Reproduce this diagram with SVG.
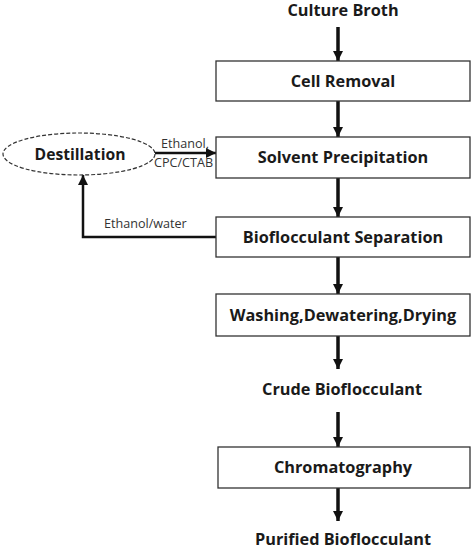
<svg xmlns="http://www.w3.org/2000/svg" width="474" height="553" viewBox="0 0 474 553">
<defs>
<style>
.box{fill:#fff;stroke:#333;stroke-width:1.3}
.t{font-family:"Open Sans","Liberation Sans",sans-serif;font-weight:bold;font-size:16.3px;fill:#1a1a1a;text-anchor:middle}
.s{font-family:"Open Sans","Liberation Sans",sans-serif;font-size:12.6px;fill:#333}
.c{stroke:#111;stroke-width:3.5;fill:none}
.c2{stroke:#111;stroke-width:2.5;fill:none}
</style>
<marker id="ah" viewBox="0 0 10 10" refX="10" refY="5" markerWidth="3" markerHeight="3" markerUnits="strokeWidth" orient="auto">
<path d="M0,0 L10,5 L0,10 Z" fill="#111"/>
</marker>
<marker id="ah2" viewBox="0 0 10 10" refX="10" refY="5" markerWidth="4" markerHeight="4" markerUnits="strokeWidth" orient="auto">
<path d="M0,0 L10,5 L0,10 Z" fill="#111"/>
</marker>
</defs>
<g id="connectors">
<line class="c" x1="338" y1="27" x2="338" y2="61" marker-end="url(#ah)"/>
<line class="c" x1="338" y1="101" x2="338" y2="137" marker-end="url(#ah)"/>
<line class="c" x1="338" y1="178" x2="338" y2="217" marker-end="url(#ah)"/>
<line class="c" x1="338" y1="257" x2="338" y2="294" marker-end="url(#ah)"/>
<line class="c" x1="338" y1="336" x2="338" y2="369" marker-end="url(#ah)"/>
<line class="c" x1="338" y1="412" x2="338" y2="447" marker-end="url(#ah)"/>
<line class="c" x1="338" y1="488" x2="338" y2="521" marker-end="url(#ah)"/>
<line class="c2" x1="155" y1="153" x2="216" y2="153" marker-end="url(#ah2)"/>
<polyline class="c2" points="216,237 83,237 83,175" marker-end="url(#ah2)"/>
<text class="s" x="161" y="148">Ethanol,</text>
<text class="s" x="154" y="167">CPC/CTAB</text>
<text class="s" x="104" y="228">Ethanol/water</text>
</g>
<g id="culture-broth"><text class="t" x="343" y="16">Culture Broth</text></g>
<g id="cell-removal"><rect class="box" x="216" y="61" width="254" height="40"/><text class="t" x="343" y="87">Cell Removal</text></g>
<g id="destillation"><ellipse cx="79" cy="154" rx="76" ry="21" fill="#fff" stroke="#333" stroke-width="1.2" stroke-dasharray="4,2"/><text class="t" x="80" y="160" style="font-size:15.7px">Destillation</text></g>
<g id="solvent-precipitation"><rect class="box" x="216" y="137" width="254" height="41"/><text class="t" x="343" y="163">Solvent Precipitation</text></g>
<g id="bioflocculant-separation"><rect class="box" x="216" y="217" width="254" height="40"/><text class="t" x="343" y="243">Bioflocculant Separation</text></g>
<g id="washing"><rect class="box" x="216" y="294" width="254" height="42"/><text class="t" x="343" y="321">Washing,Dewatering,Drying</text></g>
<g id="crude-bioflocculant"><text class="t" x="342" y="395">Crude Bioflocculant</text></g>
<g id="chromatography"><rect class="box" x="218" y="447" width="252" height="41"/><text class="t" x="343" y="473">Chromatography</text></g>
<g id="purified-bioflocculant"><text class="t" x="343" y="545">Purified Bioflocculant</text></g>
</svg>
